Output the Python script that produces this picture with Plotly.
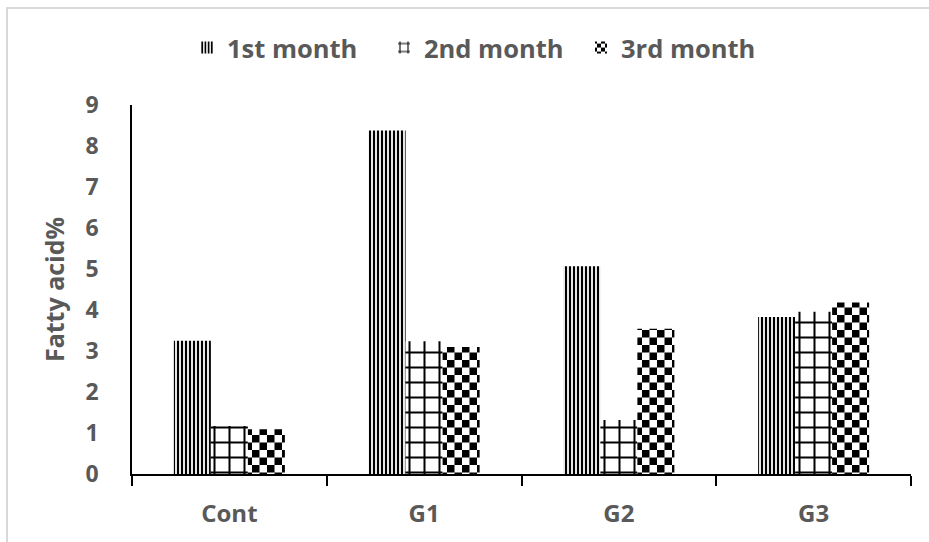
import plotly.graph_objects as go

# Fatty acid content (%) per group over three months
groups = ["Cont", "G1", "G2", "G3"]
month_names = ["1st month", "2nd month", "3rd month"]
month1 = [3.25, 8.38, 5.07, 3.83]
month2 = [1.17, 3.24, 1.32, 3.96]
month3 = [1.09, 3.10, 3.54, 4.18]
y_ticks = [0, 1, 2, 3, 4, 5, 6, 7, 8, 9]

TEXT = "#595959"
FONT = "Open Sans"

# hatch styles: vertical stripes, square grid, checkerboard (drawn from the "." pattern)
patterns = [
    dict(shape="|", size=4, solidity=0.55),
    dict(shape="+", size=15, solidity=0.25),
    dict(shape=".", size=15, solidity=0.5),
]

fig = go.Figure()
for name, vals, pat in zip(month_names, [month1, month2, month3], patterns):
    fig.add_trace(go.Bar(
        name=name,
        x=groups,
        y=vals,
        marker=dict(
            color="white",
            line=dict(width=0),
            pattern=dict(fgcolor="black", bgcolor="white", fillmode="replace", **pat),
        ),
    ))

W, H = 929, 542
L, R, T, B = 132, 18, 105, 68
pw, ph = W - L - R, H - T - B

fig.update_layout(
    width=W,
    height=H,
    margin=dict(l=L, r=R, t=T, b=B, autoexpand=False),
    paper_bgcolor="white",
    plot_bgcolor="white",
    barmode="group",
    bargap=0.43,
    bargroupgap=0,
    font=dict(family=FONT, color=TEXT, size=24, weight=700),
    showlegend=True,
    legend=dict(
        orientation="h",
        x=(187 - L) / pw,
        xanchor="left",
        y=(H - B - 48) / ph,
        yanchor="middle",
        font=dict(family=FONT, color=TEXT, size=25.5, weight=700),
        itemwidth=30,
        entrywidth=152,
        entrywidthmode="pixels",
        bgcolor="rgba(0,0,0,0)",
    ),
    xaxis=dict(
        showline=True,
        linecolor="black",
        linewidth=2,
        ticks="outside",
        ticklen=10,
        tickwidth=2,
        tickcolor="black",
        tickson="boundaries",
        ticklabelstandoff=17,
        showgrid=False,
        zeroline=False,
        tickfont=dict(family=FONT, color=TEXT, size=24, weight=700),
    ),
    yaxis=dict(
        range=[0, 9],
        tickvals=y_ticks,
        ticktext=[str(v) for v in y_ticks],
        showline=True,
        linecolor="black",
        linewidth=1.5,
        ticks="",
        ticklabelstandoff=27,
        showgrid=False,
        zeroline=False,
        tickfont=dict(family=FONT, color=TEXT, size=23, weight=700),
        title=dict(text="Fatty acid%", standoff=14,
                   font=dict(family=FONT, color=TEXT, size=25, weight=700)),
    ),
    shapes=[
        # chart-area frame
        dict(type="rect", xref="paper", yref="paper",
             x0=(7 - L) / pw, x1=(W + 20 - L) / pw,
             y0=-(B + 20) / ph, y1=(H - B - 8) / ph,
             line=dict(color="#d9d9d9", width=2), fillcolor="rgba(0,0,0,0)",
             layer="below"),
    ],
)

# turn the "." dot tiles into checkerboard tiles
checker_js = """
var gd = document.getElementById('{plot_id}');
function checker() {
  var ns = 'http://www.w3.org/2000/svg';
  var pats = gd.querySelectorAll('pattern');
  pats.forEach(function(p) {
    var c = p.querySelector('circle');
    if (!c) return;
    var w = parseFloat(p.getAttribute('width'));
    var h = parseFloat(p.getAttribute('height'));
    c.parentNode.removeChild(c);
    [[0, 0], [w / 2, h / 2]].forEach(function(o) {
      var r = document.createElementNS(ns, 'rect');
      r.setAttribute('x', o[0]);
      r.setAttribute('y', o[1]);
      r.setAttribute('width', w / 2);
      r.setAttribute('height', h / 2);
      r.setAttribute('fill', 'black');
      p.appendChild(r);
    });
  });
}
checker();
gd.on('plotly_afterplot', checker);
"""

fig.write_html("out.html", post_script=checker_js)
